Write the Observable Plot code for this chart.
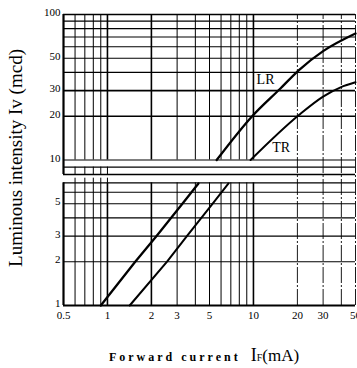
<!DOCTYPE html>
<html><head><meta charset="utf-8">
<script src="https://cdn.jsdelivr.net/npm/d3@7"></script>
<script src="https://cdn.jsdelivr.net/npm/@observablehq/plot@0.6"></script>
<style>body{margin:0;background:#fff;overflow:hidden} svg{display:block}</style>
</head><body><div id="chart"></div>
<script>
const xTicks = [0.5, 1, 2, 3, 5, 10, 20, 30, 50];
const yTicks = [1, 2, 3, 5, 10, 20, 30, 50, 100];
const xGrid = [0.6, 0.7, 0.8, 0.9, 1, 2, 3, 4, 5, 6, 7, 8, 9, 10];
const xGridFar = [20, 30, 40, 50];
const yGridLow = [2, 3, 4, 5, 6];
const yGridHigh = [10, 20, 30, 40, 50, 60, 70, 80, 90];
const bandLines = [6.97, 7.95, 8.93];
const bandTicks = [0.6, 0.7, 0.8, 0.9, 1];
const lrLowI = [0.9, 1.55, 2.17, 3.26, 4.2];
const lrLowIv = [1, 2, 3, 5, 6.9];
const lrHighI = [5.6, 9.8, 15.3, 20.5, 30, 50];
const lrHighIv = [10, 20, 31, 41.5, 56, 74];
const trLowI = [1.42, 2.56, 3.5, 5.24, 6.75];
const trLowIv = [1, 2, 3, 5, 6.9];
const trHighI = [9.55, 20.5, 30, 39.5, 50];
const trHighIv = [10, 20.4, 27.3, 31.6, 34.2];
const seriesNames = ["LR", "TR"];
const labelI = [12.1, 15.5];
const labelIv = [35.8, 12.2];

const pts = (xs, ys) => xs.map((x, i) => ({x, y: ys[i]}));
const labels = seriesNames.map((n, i) => ({n, x: labelI[i], y: labelIv[i]}));

const plot = Plot.plot({
  width: 357, height: 368,
  marginLeft: 63, marginRight: 2, marginTop: 14, marginBottom: 63,
  style: {fontFamily: "Liberation Serif", fontSize: "11px", background: "#fff", color: "#000"},
  x: {type: "log", domain: [0.5, 50], axis: null},
  y: {type: "log", domain: [1, 100], axis: null},
  marks: [
    Plot.ruleX(xGrid, {x: d => d, y1: 1, y2: 6.97, stroke: "#000", strokeWidth: d => [1, 2, 10].includes(d) ? 1.6 : 1}),
    Plot.ruleX(xGrid, {x: d => d, y1: 10, y2: 100, stroke: "#000", strokeWidth: d => [1, 2, 10].includes(d) ? 1.6 : 1}),
    Plot.ruleX(xGridFar, {x: d => d, y1: 1, y2: 100, stroke: "#000", strokeWidth: 0.9, strokeDasharray: "16,2,2,2"}),
    Plot.ruleY(yGridLow, {y: d => d, stroke: "#000", strokeWidth: 1.1}),
    Plot.ruleY(yGridHigh, {y: d => d, stroke: "#000", strokeWidth: d => [20, 30].includes(d) ? 1.6 : 1.1}),
    Plot.ruleY(bandLines, {y: d => d, stroke: "#000", strokeWidth: 1.3}),
    Plot.ruleX(bandTicks, {x: d => d, y1: 7.95, y2: 8.93, stroke: "#000", strokeWidth: 1}),
    Plot.ruleX(bandTicks, {x: d => d, y1: 6.97, y2: 7.5, stroke: "#000", strokeWidth: 1}),
    Plot.ruleY([1], {stroke: "#000", strokeWidth: 2.2}),
    Plot.ruleY([100], {stroke: "#000", strokeWidth: 1.6}),
    Plot.ruleX([0.5], {y1: 1, y2: 6.97, stroke: "#000", strokeWidth: 2.2}),
    Plot.ruleX([0.5], {y1: 7.95, y2: 100, stroke: "#000", strokeWidth: 2.2}),
    Plot.line(pts(lrLowI, lrLowIv), {x: "x", y: "y", stroke: "#000", strokeWidth: 2.3}),
    Plot.line(pts(lrHighI, lrHighIv), {x: "x", y: "y", stroke: "#000", strokeWidth: 2.3, curve: "monotone-x"}),
    Plot.line(pts(trLowI, trLowIv), {x: "x", y: "y", stroke: "#000", strokeWidth: 2}),
    Plot.line(pts(trHighI, trHighIv), {x: "x", y: "y", stroke: "#000", strokeWidth: 2, curve: "monotone-x"}),
    Plot.text(labels, {x: "x", y: "y", text: "n", fontSize: 14, fill: "#000"}),
    Plot.text(xTicks, {x: d => d, frameAnchor: "bottom", dy: 13, text: d => String(d), fontSize: 11, fill: "#000"}),
    Plot.text(yTicks, {y: d => d, frameAnchor: "left", dx: -3, dy: -2, textAnchor: "end", text: d => String(d), fontSize: 11, fill: "#000"})
  ]
});
document.getElementById("chart").appendChild(plot);

const svg = d3.select(plot);
svg.append("text")
  .attr("transform", "translate(18,158) rotate(-90)")
  .attr("text-anchor", "middle")
  .attr("dominant-baseline", "middle")
  .attr("font-family", "Liberation Serif")
  .attr("font-size", 19)
  .attr("fill", "#000")
  .text("Luminous intensity Iv (mcd)");
const xt = svg.append("text")
  .attr("x", 204).attr("y", 361)
  .attr("text-anchor", "middle")
  .attr("font-family", "Liberation Serif")
  .attr("fill", "#000");
xt.append("tspan").attr("font-size", 12).attr("font-weight", "bold").attr("letter-spacing", 3).text("Forward current ");
xt.append("tspan").attr("font-size", 18).attr("dx", 4).text("I");
xt.append("tspan").attr("font-size", 10).text("F");
xt.append("tspan").attr("font-size", 17).text("(mA)");
</script>
</body></html>
